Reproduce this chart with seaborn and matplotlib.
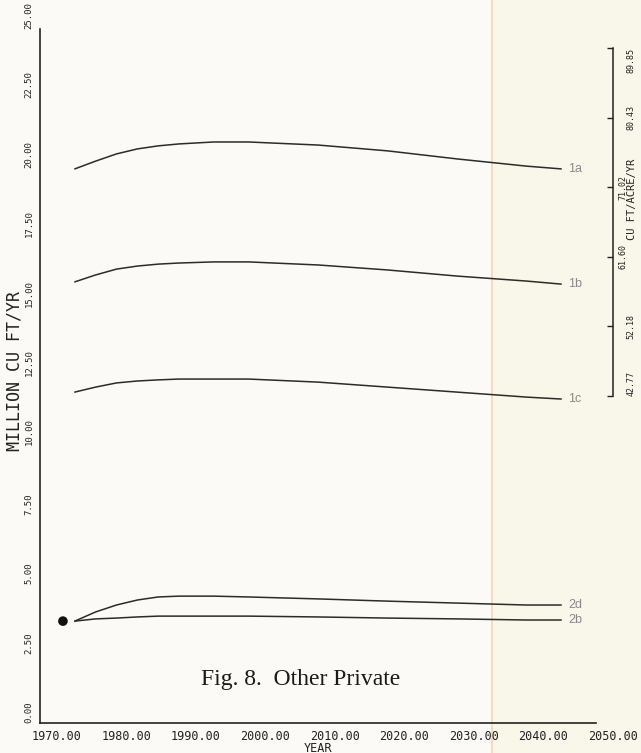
import matplotlib
matplotlib.use("Agg")
import matplotlib.pyplot as plt
import matplotlib.transforms as mtransforms
from matplotlib.patches import Rectangle
from matplotlib.lines import Line2D
import seaborn as sns
import pandas as pd

# ---------------- data ----------------
years = [1975, 1978, 1981, 1984, 1987, 1990, 1995, 2000, 2010, 2020, 2030, 2040, 2045]
series_1a = [19.96, 20.24, 20.50, 20.68, 20.79, 20.86, 20.93, 20.93, 20.82, 20.61, 20.32, 20.06, 19.96]
series_1b = [15.89, 16.14, 16.35, 16.46, 16.53, 16.57, 16.61, 16.61, 16.50, 16.32, 16.10, 15.92, 15.81]
series_1c = [11.92, 12.10, 12.25, 12.32, 12.36, 12.39, 12.39, 12.39, 12.28, 12.10, 11.92, 11.74, 11.67]
series_2d = [3.67, 4.00, 4.25, 4.43, 4.54, 4.57, 4.57, 4.54, 4.47, 4.39, 4.32, 4.25, 4.25]
series_2b = [3.67, 3.75, 3.78, 3.82, 3.85, 3.85, 3.85, 3.85, 3.82, 3.78, 3.75, 3.71, 3.71]
series_names = ["1a", "1b", "1c", "2d", "2b"]
series_values = [series_1a, series_1b, series_1c, series_2d, series_2b]

observed_year = [1973.3]
observed_value = [3.67]

x_ticks = [1970, 1980, 1990, 2000, 2010, 2020, 2030, 2040, 2050]
x_ticklabels = ["1970.00", "1980.00", "1990.00", "2000.00", "2010.00",
                "2020.00", "2030.00", "2040.00", "2050.00"]
y_ticks = [0, 2.5, 5, 7.5, 10, 12.5, 15, 17.5, 20, 22.5, 25]
y_ticklabels = ["0.00", "2.50", "5.00", "7.50", "10.00", "12.50",
                "15.00", "17.50", "20.00", "22.50", "25.00"]
right_ticks = [42.77, 52.18, 61.60, 71.02, 80.43, 89.85]
right_ticklabels = ["42.77", "52.18", "61.60", "71.02", "80.43", "89.85"]

title_text = "Fig. 8.  Other Private"
x_label = "YEAR"
y_label = "MILLION CU FT/YR"
right_label = "CU FT/ACRE/YR"

# ---------------- styling ----------------
sns.set_theme(style="white")
plt.rcParams['font.family'] = ['DejaVu Sans Mono', 'DejaVu Sans']

W, H = 641, 753
fig = plt.figure(figsize=(W / 100, H / 100), dpi=100, facecolor='#fbfaf6')

def fx(px):
    return px / W

def fy(py):
    return 1 - py / H

# paper tone + fold line (behind everything)
fig.patches.append(Rectangle((fx(492), 0), 1 - fx(492), 1, transform=fig.transFigure,
                             facecolor='#f9f6ea', edgecolor='none', zorder=-10))
fig.lines.append(Line2D([fx(492), fx(492)], [0, 1], transform=fig.transFigure,
                        color='#f0dcb9', lw=1.3, zorder=-9))

ink = '#222222'
ax = fig.add_axes([fx(40), fy(723), fx(596) - fx(40), fy(29) - fy(723)])
ax.patch.set_alpha(0)

rows = []
for name, vals in zip(series_names, series_values):
    for yr, v in zip(years, vals):
        rows.append({"series": name, "year": yr, "value": v})
df = pd.DataFrame(rows)

sns.lineplot(data=df, x="year", y="value", units="series", estimator=None,
             color='#2b2b2b', lw=1.1, ax=ax, legend=False)
sns.scatterplot(x=observed_year, y=observed_value, ax=ax, s=48, color='#111111',
                edgecolor='none', zorder=5)

for name, vals in zip(series_names, series_values):
    ax.text(years[-1] + 1.0, vals[-1], name, color='#8a8a8a', fontsize=9,
            family=['Liberation Sans'], ha='left', va='center')

ax.set_xlim(1970, 2050)
ax.set_ylim(0, 25)
for s in ['top', 'right']:
    ax.spines[s].set_visible(False)
for s in ['left', 'bottom']:
    ax.spines[s].set_color(ink)
    ax.spines[s].set_linewidth(1.2)

ax.set_xticks(x_ticks)
ax.set_xticklabels(x_ticklabels)
ax.set_yticks(y_ticks)
ax.set_yticklabels(y_ticklabels)
ax.tick_params(axis='x', direction='in', length=5, width=1, pad=5,
               labelsize=8.5, colors=ink)
ax.tick_params(axis='y', direction='out', length=4, width=1, pad=0.5,
               labelsize=6.5, colors=ink)
for lab in ax.get_xticklabels():
    lab.set_ha('left')
    lab.set_transform(lab.get_transform() +
                      mtransforms.ScaledTranslation(-8 / 100, 0, fig.dpi_scale_trans))
for lab in ax.get_yticklabels():
    lab.set_rotation(90)
    lab.set_va('bottom')
    lab.set_ha('right')

ax.set_xlabel(x_label, fontsize=8.5, color=ink)
ax.xaxis.set_label_coords(0.5, -(748 - 723) / 694)
ax.xaxis.label.set_va('center')
ax.set_ylabel(y_label, fontsize=12, color=ink)
ax.yaxis.set_label_coords((15 - 40) / 556, (723 - 371) / 694)
ax.yaxis.label.set_va('center')

# right-hand per-acre scale
r_top, r_bot = 48, 396
rax = fig.add_axes([fx(600), fy(r_bot), fx(613) - fx(600), fy(r_top) - fy(r_bot)])
rax.patch.set_alpha(0)
rax.set_xticks([])
rax.set_ylim(right_ticks[0], right_ticks[-1])
for s in ['top', 'left', 'bottom']:
    rax.spines[s].set_visible(False)
rax.spines['right'].set_color(ink)
rax.spines['right'].set_linewidth(1.1)
rax.yaxis.tick_right()
rax.set_yticks(right_ticks)
rax.set_yticklabels(right_ticklabels)
rax.tick_params(axis='y', direction='in', length=4, width=1, pad=9.5,
                labelsize=6, colors=ink)
rlabs = rax.get_yticklabels()
for i, lab in enumerate(rlabs):
    lab.set_rotation(90)
    lab.set_ha('left')
    if i == 0:
        lab.set_va('bottom')
    elif i == len(rlabs) - 1:
        lab.set_va('top')
    else:
        lab.set_va('center')
for lab in rlabs[2:4]:
    lab.set_transform(lab.get_transform() +
                      mtransforms.ScaledTranslation(-8 / 100, 0, fig.dpi_scale_trans))
rax.yaxis.set_label_position('right')
rax.set_ylabel(right_label, fontsize=7.5, color=ink, rotation=90)
rax.yaxis.set_label_coords((632 - 600) / 13, (r_bot - 199) / (r_bot - r_top))
rax.yaxis.label.set_va('center')
rax.yaxis.label.set_ha('center')

# caption
fig.text(fx(301), fy(680), title_text, family=['Liberation Serif'], fontsize=17,
         color='#1a1a1a', ha='center', va='center')

fig.savefig("out.png", dpi=100, facecolor=fig.get_facecolor())
